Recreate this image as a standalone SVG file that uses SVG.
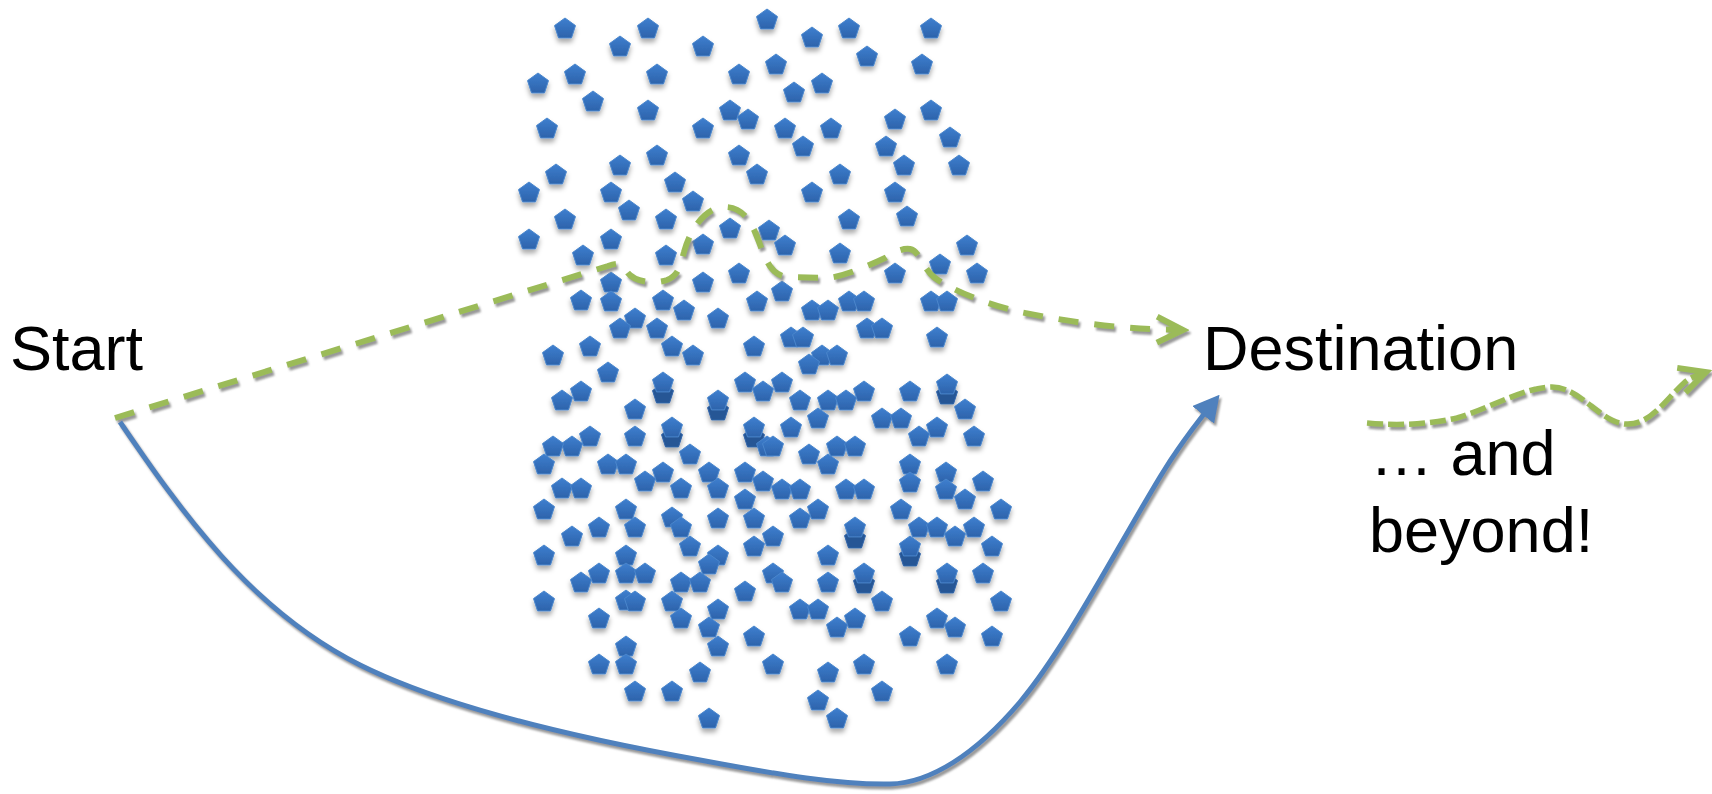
<svg xmlns="http://www.w3.org/2000/svg" xmlns:xlink="http://www.w3.org/1999/xlink" width="1712" height="794" viewBox="0 0 1712 794">
<style>
.lbl{font-family:"Liberation Sans",Arial,sans-serif;font-size:63px;fill:#000}
.green{fill:none;stroke:#9bbb59;stroke-width:6;stroke-dasharray:20 16}
.green2{fill:none;stroke:#9bbb59;stroke-width:5.5;stroke-dasharray:16 5}
.blue{fill:none;stroke:#4f81bd;stroke-width:5}
</style>
<defs>
<linearGradient id="pg" x1="0" y1="0" x2="0" y2="1">
<stop offset="0" stop-color="#3e7fcf"/>
<stop offset="1" stop-color="#2d63ab"/>
</linearGradient>
<polygon id="p" points="0,-11 10.5,-3.4 6.5,8.9 -6.5,8.9 -10.5,-3.4" fill="url(#pg)" stroke="#4a86cc" stroke-width="1"/>
<polygon id="pd" points="0,-11 10.5,-3.4 6.5,8.9 -6.5,8.9 -10.5,-3.4" fill="#275795" stroke="#2f63a8" stroke-width="1"/>
<filter id="psh" x="-10%" y="-10%" width="120%" height="120%">
<feDropShadow dx="0" dy="4" stdDeviation="2.5" flood-color="#000" flood-opacity="0.33"/>
</filter>
<filter id="lsh" x="-10%" y="-10%" width="120%" height="130%">
<feDropShadow dx="2" dy="3" stdDeviation="1" flood-color="#7f7f7f" flood-opacity="0.8"/>
</filter>
<marker id="bh" markerUnits="userSpaceOnUse" viewBox="0 0 26 28" markerWidth="26" markerHeight="28" refX="14" refY="14" orient="auto">
<path d="M0,0 L26,14 L0,28 Z" fill="#4f81bd"/>
</marker>
<marker id="gh" markerUnits="userSpaceOnUse" viewBox="-4 -4 36 34" markerWidth="36" markerHeight="34" refX="26" refY="13" orient="auto">
<path d="M0,0 L26,13 L0,26" fill="none" stroke="#9bbb59" stroke-width="6"/>
</marker>
</defs>
<rect width="1712" height="794" fill="#fff"/>
<g id="obstacles" filter="url(#psh)">
<use href="#pd" x="663" y="394"/><use href="#pd" x="718" y="411"/><use href="#pd" x="672" y="438"/><use href="#pd" x="754" y="438"/><use href="#pd" x="947" y="395"/><use href="#pd" x="855" y="539"/><use href="#pd" x="910" y="557"/><use href="#pd" x="864" y="584"/><use href="#pd" x="947" y="584"/>
<use href="#p" x="565" y="29"/><use href="#p" x="648" y="29"/><use href="#p" x="620" y="47"/><use href="#p" x="703" y="47"/><use href="#p" x="767" y="20"/><use href="#p" x="575" y="75"/><use href="#p" x="538" y="84"/><use href="#p" x="657" y="75"/><use href="#p" x="739" y="75"/><use href="#p" x="593" y="102"/><use href="#p" x="648" y="111"/><use href="#p" x="730" y="111"/><use href="#p" x="748" y="120"/><use href="#p" x="547" y="129"/><use href="#p" x="703" y="129"/><use href="#p" x="657" y="156"/><use href="#p" x="620" y="166"/><use href="#p" x="739" y="156"/><use href="#p" x="556" y="175"/><use href="#p" x="757" y="175"/><use href="#p" x="529" y="193"/><use href="#p" x="611" y="193"/><use href="#p" x="675" y="183"/><use href="#p" x="693" y="202"/><use href="#p" x="629" y="211"/><use href="#p" x="565" y="220"/><use href="#p" x="666" y="220"/><use href="#p" x="730" y="229"/><use href="#p" x="529" y="240"/><use href="#p" x="611" y="240"/><use href="#p" x="703" y="245"/><use href="#p" x="769" y="231"/>
<use href="#p" x="812" y="38"/><use href="#p" x="849" y="29"/><use href="#p" x="931" y="29"/><use href="#p" x="867" y="57"/><use href="#p" x="776" y="65"/><use href="#p" x="922" y="65"/><use href="#p" x="822" y="84"/><use href="#p" x="794" y="93"/><use href="#p" x="931" y="111"/><use href="#p" x="895" y="120"/><use href="#p" x="785" y="129"/><use href="#p" x="831" y="129"/><use href="#p" x="803" y="147"/><use href="#p" x="886" y="147"/><use href="#p" x="950" y="138"/><use href="#p" x="904" y="166"/><use href="#p" x="959" y="166"/><use href="#p" x="840" y="175"/><use href="#p" x="812" y="193"/><use href="#p" x="895" y="193"/><use href="#p" x="849" y="220"/><use href="#p" x="907" y="217"/><use href="#p" x="785" y="246"/><use href="#p" x="840" y="254"/><use href="#p" x="967" y="246"/>
<use href="#p" x="583" y="256"/><use href="#p" x="666" y="256"/><use href="#p" x="611" y="283"/><use href="#p" x="703" y="283"/><use href="#p" x="739" y="274"/><use href="#p" x="581" y="301"/><use href="#p" x="611" y="302"/><use href="#p" x="663" y="301"/><use href="#p" x="684" y="311"/><use href="#p" x="635" y="319"/><use href="#p" x="620" y="329"/><use href="#p" x="657" y="329"/><use href="#p" x="718" y="319"/><use href="#p" x="757" y="302"/><use href="#p" x="672" y="347"/><use href="#p" x="693" y="356"/><use href="#p" x="590" y="347"/><use href="#p" x="553" y="356"/><use href="#p" x="754" y="347"/><use href="#p" x="608" y="373"/><use href="#p" x="663" y="383"/><use href="#p" x="581" y="392"/><use href="#p" x="562" y="401"/><use href="#p" x="745" y="383"/><use href="#p" x="763" y="392"/><use href="#p" x="635" y="410"/><use href="#p" x="718" y="401"/><use href="#p" x="672" y="428"/><use href="#p" x="754" y="428"/><use href="#p" x="590" y="437"/><use href="#p" x="572" y="447"/><use href="#p" x="553" y="447"/><use href="#p" x="635" y="437"/><use href="#p" x="767" y="447"/><use href="#p" x="690" y="455"/><use href="#p" x="544" y="465"/><use href="#p" x="608" y="465"/><use href="#p" x="626" y="465"/><use href="#p" x="663" y="473"/><use href="#p" x="709" y="473"/><use href="#p" x="745" y="473"/><use href="#p" x="645" y="482"/><use href="#p" x="562" y="489"/><use href="#p" x="581" y="489"/><use href="#p" x="681" y="489"/><use href="#p" x="718" y="489"/><use href="#p" x="763" y="482"/>
<use href="#p" x="940" y="265"/><use href="#p" x="977" y="274"/><use href="#p" x="895" y="274"/><use href="#p" x="782" y="292"/><use href="#p" x="812" y="311"/><use href="#p" x="828" y="311"/><use href="#p" x="849" y="302"/><use href="#p" x="864" y="302"/><use href="#p" x="931" y="302"/><use href="#p" x="947" y="302"/><use href="#p" x="867" y="329"/><use href="#p" x="882" y="329"/><use href="#p" x="791" y="338"/><use href="#p" x="803" y="338"/><use href="#p" x="937" y="338"/><use href="#p" x="822" y="356"/><use href="#p" x="837" y="356"/><use href="#p" x="809" y="365"/><use href="#p" x="782" y="383"/><use href="#p" x="800" y="401"/><use href="#p" x="828" y="401"/><use href="#p" x="846" y="401"/><use href="#p" x="864" y="392"/><use href="#p" x="910" y="392"/><use href="#p" x="947" y="385"/><use href="#p" x="965" y="410"/><use href="#p" x="818" y="419"/><use href="#p" x="791" y="428"/><use href="#p" x="882" y="419"/><use href="#p" x="901" y="419"/><use href="#p" x="937" y="428"/><use href="#p" x="919" y="437"/><use href="#p" x="974" y="437"/><use href="#p" x="773" y="447"/><use href="#p" x="809" y="455"/><use href="#p" x="837" y="447"/><use href="#p" x="855" y="447"/><use href="#p" x="828" y="465"/><use href="#p" x="910" y="465"/><use href="#p" x="946" y="473"/><use href="#p" x="983" y="482"/><use href="#p" x="782" y="490"/><use href="#p" x="800" y="490"/><use href="#p" x="846" y="490"/><use href="#p" x="864" y="490"/><use href="#p" x="910" y="483"/><use href="#p" x="946" y="490"/>
<use href="#p" x="745" y="500"/><use href="#p" x="544" y="510"/><use href="#p" x="626" y="510"/><use href="#p" x="672" y="518"/><use href="#p" x="681" y="528"/><use href="#p" x="718" y="519"/><use href="#p" x="754" y="519"/><use href="#p" x="599" y="528"/><use href="#p" x="635" y="528"/><use href="#p" x="572" y="537"/><use href="#p" x="690" y="547"/><use href="#p" x="754" y="547"/><use href="#p" x="544" y="556"/><use href="#p" x="626" y="556"/><use href="#p" x="718" y="556"/><use href="#p" x="709" y="565"/><use href="#p" x="599" y="574"/><use href="#p" x="626" y="574"/><use href="#p" x="645" y="574"/><use href="#p" x="581" y="583"/><use href="#p" x="681" y="583"/><use href="#p" x="700" y="583"/><use href="#p" x="745" y="592"/><use href="#p" x="544" y="602"/><use href="#p" x="626" y="601"/><use href="#p" x="635" y="602"/><use href="#p" x="672" y="602"/><use href="#p" x="718" y="610"/><use href="#p" x="599" y="619"/><use href="#p" x="681" y="619"/><use href="#p" x="709" y="628"/><use href="#p" x="754" y="637"/><use href="#p" x="626" y="647"/><use href="#p" x="718" y="647"/><use href="#p" x="599" y="665"/><use href="#p" x="626" y="665"/><use href="#p" x="700" y="673"/><use href="#p" x="635" y="692"/><use href="#p" x="672" y="692"/><use href="#p" x="709" y="719"/>
<use href="#p" x="818" y="510"/><use href="#p" x="800" y="519"/><use href="#p" x="901" y="510"/><use href="#p" x="965" y="500"/><use href="#p" x="1001" y="510"/><use href="#p" x="855" y="528"/><use href="#p" x="773" y="537"/><use href="#p" x="919" y="528"/><use href="#p" x="937" y="528"/><use href="#p" x="955" y="537"/><use href="#p" x="974" y="528"/><use href="#p" x="992" y="547"/><use href="#p" x="910" y="547"/><use href="#p" x="828" y="556"/><use href="#p" x="773" y="574"/><use href="#p" x="782" y="583"/><use href="#p" x="828" y="583"/><use href="#p" x="864" y="574"/><use href="#p" x="947" y="574"/><use href="#p" x="983" y="574"/><use href="#p" x="882" y="602"/><use href="#p" x="1001" y="602"/><use href="#p" x="800" y="610"/><use href="#p" x="818" y="610"/><use href="#p" x="855" y="619"/><use href="#p" x="837" y="628"/><use href="#p" x="937" y="619"/><use href="#p" x="955" y="628"/><use href="#p" x="910" y="637"/><use href="#p" x="992" y="637"/><use href="#p" x="773" y="665"/><use href="#p" x="864" y="665"/><use href="#p" x="947" y="665"/><use href="#p" x="828" y="673"/><use href="#p" x="882" y="692"/><use href="#p" x="818" y="701"/><use href="#p" x="837" y="719"/>
</g>
<g id="connectors" filter="url(#lsh)">
<path class="blue" marker-end="url(#bh)" d="M120,422 C180,510 250,610 360,665 C440,705 560,735 700,760 C780,775 840,785 890,784 C930,783 975,755 1020,702 C1065,648 1110,560 1160,477 C1178,447 1195,425 1212,404"/>
<path class="green" marker-end="url(#gh)" d="M115,418 L608,266 C616,263 623,262 626,270 C631,281 652,285 667,280 C680,275 681,262 684,252 C690,230 705,207 725,207 C745,207 753,226 759,242 C766,260 771,277 790,277 L828,278 C845,276 868,266 885,258 C895,252 902,248 910,249 C920,251 922,268 935,278 C955,292 990,305 1020,312 C1060,320 1110,329 1183,330"/>
<path class="green2" marker-end="url(#gh)" d="M1367,423 C1400,426 1430,424 1457,418 C1490,408 1525,387 1552,387 C1580,387 1600,422 1625,424 C1650,426 1665,400 1685,382 C1693,376 1700,374 1706,372"/>
</g>
<g id="start"><text class="lbl" x="10" y="370">Start</text></g>
<g id="destination"><text class="lbl" x="1203" y="370">Destination</text></g>
<g id="beyond"><text class="lbl" x="1370" y="475">… and</text><text class="lbl" x="1369" y="552">beyond!</text></g>
</svg>
